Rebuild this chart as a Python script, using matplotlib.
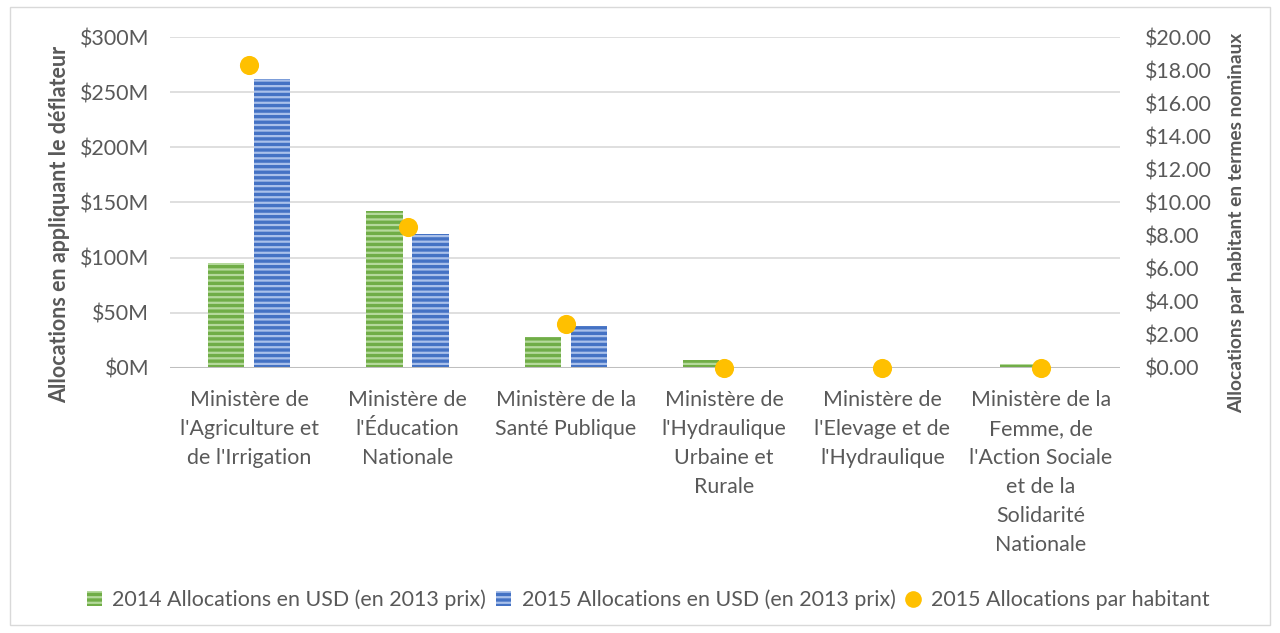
import matplotlib
matplotlib.use("Agg")
import matplotlib.pyplot as plt
import numpy as np
from matplotlib.patches import Rectangle
from matplotlib.lines import Line2D
from matplotlib.ticker import FuncFormatter, MultipleLocator

plt.rcParams['font.family'] = ['Lato', 'DejaVu Sans']
plt.rcParams['hatch.linewidth'] = 1.6

categories = [
    "Ministère de\nl'Agriculture et\nde l'Irrigation",
    "Ministère de\nl'Éducation\nNationale",
    "Ministère de la\nSanté Publique",
    "Ministère de\nl'Hydraulique\nUrbaine et\nRurale",
    "Ministère de\nl'Elevage et de\nl'Hydraulique",
    "Ministère de la\nFemme, de\nl'Action Sociale\net de la\nSolidarité\nNationale",
]
alloc_2014 = [95, 142, 28, 7, 0, 3.5]       # millions USD (2013 prices)
alloc_2015 = [262, 121.5, 38, 0, 0, 0]      # millions USD (2013 prices)
per_capita_2015 = [18.3, 8.5, 2.65, 0, 0, 0]  # USD nominal

labels = ["2014 Allocations en USD (en 2013 prix)",
          "2015 Allocations en USD (en 2013 prix)",
          "2015 Allocations par habitant"]

TXT = '#595959'
GREEN = '#70AD47'
GREEN_H = '#B5D99C'
BLUE = '#4472C4'
BLUE_H = '#A9C0EA'
GOLD = '#FFC000'
FS = 15.4

fig = plt.figure(figsize=(12.8, 6.33), dpi=100)
fig.patches.append(Rectangle((10/1280, 8/633), 1260/1280, 618/633, transform=fig.transFigure,
                             fill=False, edgecolor='#D9D9D9', linewidth=1))
ax = fig.add_axes([170/1280, 1-368/633, 950/1280, 331/633])
ax2 = ax.twinx()

x = np.arange(len(categories))
w = 0.23
off = 0.145
ax.bar(x - off, alloc_2014, w, color=GREEN, edgecolor=GREEN_H, hatch='---', linewidth=0, zorder=3)
ax.bar(x + off, alloc_2015, w, color=BLUE, edgecolor=BLUE_H, hatch='---', linewidth=0, zorder=3)
ax2.scatter(x, per_capita_2015, s=190, color=GOLD, zorder=5, clip_on=False, linewidths=0)

ax.set_xlim(-0.5, len(categories) - 0.5)
ax.set_ylim(0, 300)
ax2.set_ylim(0, 20)
ax.yaxis.set_major_locator(MultipleLocator(50))
ax2.yaxis.set_major_locator(MultipleLocator(2))
ax.yaxis.set_major_formatter(FuncFormatter(lambda v, p: f"${v:.0f}M"))
ax2.yaxis.set_major_formatter(FuncFormatter(lambda v, p: f"${v:.2f}"))

ax.grid(axis='y', color='#D9D9D9', linewidth=1.2, zorder=0)
ax.set_axisbelow(True)
ax.axhline(0, color='#BFBFBF', linewidth=2.2, zorder=4)

for a in (ax, ax2):
    for s in a.spines.values():
        s.set_visible(False)
    a.tick_params(length=0, labelsize=FS, labelcolor=TXT)
ax.tick_params(axis='y', pad=15)
ax2.tick_params(axis='y', pad=18)
ax.set_xticks(x)
ax.set_xticklabels(categories, fontsize=FS, color=TXT, linespacing=1.56, va='top')
ax.tick_params(axis='x', pad=16)

ax.set_ylabel("Allocations en appliquant le déflateur", fontsize=15.5, fontweight='bold', color=TXT,
              va='center')
ax2.set_ylabel("Allocations par habitant en termes nominaux", fontsize=13.8, fontweight='bold', color=TXT,
               va='center')
ax.yaxis.set_label_coords((60 - 170) / 950, (368 - 224) / 331)
ax2.yaxis.set_label_coords((1237 - 170) / 950, (368 - 223) / 331)

handles = [
    Rectangle((0, 0), 1, 1, facecolor=GREEN, edgecolor=GREEN_H, hatch='---', linewidth=0),
    Rectangle((0, 0), 1, 1, facecolor=BLUE, edgecolor=BLUE_H, hatch='---', linewidth=0),
    Line2D([], [], marker='o', color='none', markerfacecolor=GOLD, markeredgewidth=0, markersize=12),
]
fig.legend(handles, labels, loc='center', bbox_to_anchor=(648/1280, 1-600/633), ncol=3, frameon=False,
           fontsize=FS, labelcolor=TXT, handlelength=0.7, handleheight=0.7, handletextpad=0.5,
           columnspacing=0.45)

fig.savefig("out.png", dpi=100)
